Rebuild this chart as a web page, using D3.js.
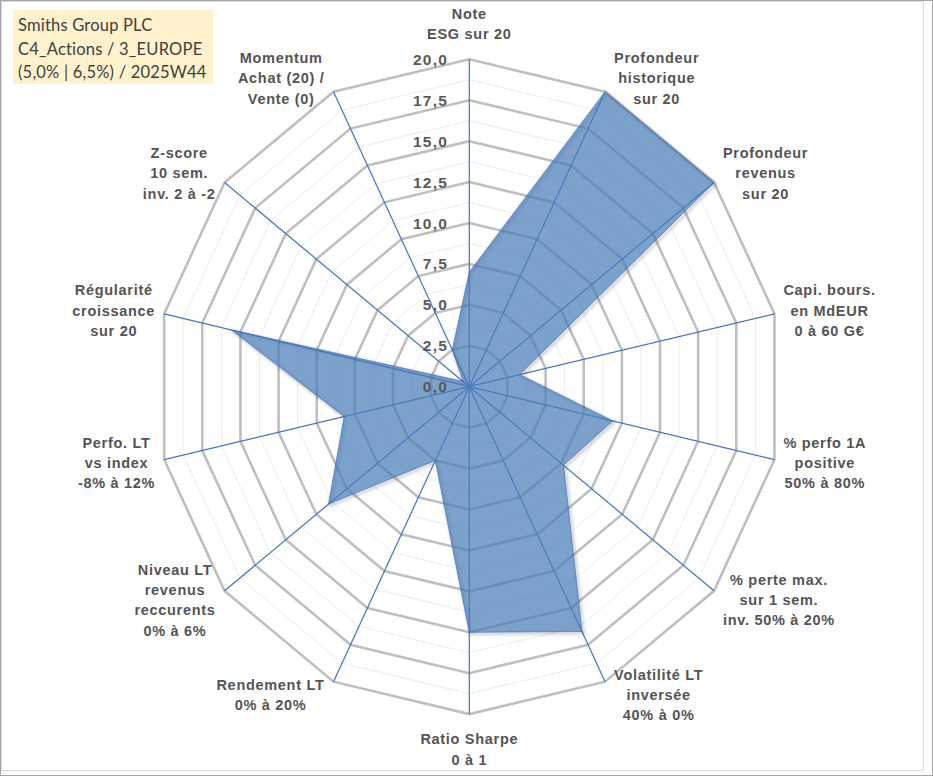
<!DOCTYPE html>
<html>
<head>
<meta charset="utf-8">
<script src="https://cdn.jsdelivr.net/npm/d3@7"></script>
<style>
  html, body { margin: 0; padding: 0; background: #fff; }
  svg { display: block; }
</style>
</head>
<body>
<svg id="chart" width="933" height="776"></svg>
<script>
// ---- Data ----
const axisLabels = [
  ["Note", "ESG sur 20"],
  ["Profondeur", "historique", "sur 20"],
  ["Profondeur", "revenus", "sur 20"],
  ["Capi. bours.", "en MdEUR", "0 à 60 G€"],
  ["% perfo 1A", "positive", "50% à 80%"],
  ["% perte max.", "sur 1 sem.", "inv. 50% à 20%"],
  ["Volatilité LT", "inversée", "40% à 0%"],
  ["Ratio Sharpe", "0 à 1"],
  ["Rendement LT", "0% à 20%"],
  ["Niveau LT", "revenus", "reccurents", "0% à 6%"],
  ["Perfo. LT", "vs index", "-8% à 12%"],
  ["Régularité", "croissance", "sur 20"],
  ["Z-score", "10 sem.", "inv. 2 à -2"],
  ["Momentum", "Achat (20) /", "Vente (0)"]
];
const seriesValues = [7.0, 20, 20, 3.3, 9.4, 7.7, 16.6, 15.0, 5.0, 11.5, 8.2, 15.6, 0.5, 2.5];
const tickValues = [0, 2.5, 5, 7.5, 10, 12.5, 15, 17.5, 20];
const minorTickValues = [1.25, 3.75, 6.25, 8.75, 11.25, 13.75, 16.25, 18.75];
const titleLines = ["Smiths Group PLC", "C4_Actions / 3_EUROPE", "(5,0% | 6,5%) / 2025W44"];

// ---- Layout ----
const W = 933, H = 776;
const cx = 469.3, cy = 386.7;
const rx = 313, ry = 327.4;
const n = axisLabels.length;
const svg = d3.select("#chart");

const angle = d3.scaleLinear().domain([0, n]).range([0, 2 * Math.PI]);
const rX = d3.scaleLinear().domain([0, 20]).range([0, rx]);
const rY = d3.scaleLinear().domain([0, 20]).range([0, ry]);
const px = (i, v) => cx + Math.sin(angle(i)) * rX(v);
const py = (i, v) => cy - Math.cos(angle(i)) * rY(v);

// Frames
svg.append("rect").attr("x", 0.5).attr("y", 0.5).attr("width", W - 1).attr("height", H - 1)
  .attr("fill", "#fff").attr("stroke", "#a6a6a6");
svg.append("rect").attr("x", 1.5).attr("y", 1.5).attr("width", 922).attr("height", 769)
  .attr("fill", "none").attr("stroke", "#d9d9d9");

// Defs: blur for the edge shadow
const defs = svg.append("defs");
defs.append("filter").attr("id", "blur").attr("x", "-10%").attr("y", "-10%").attr("width", "120%").attr("height", "120%")
  .append("feGaussianBlur").attr("stdDeviation", 1.6);

const ringPath = v => {
  const pts = d3.range(n).map(i => [px(i, v), py(i, v)]);
  return d3.line()(pts) + "Z";
};

// Minor rings
svg.append("g").selectAll("path").data(minorTickValues).join("path")
  .attr("d", d => ringPath(d)).attr("fill", "none")
  .attr("stroke", "#ededed").attr("stroke-width", 1);

// Major rings
svg.append("g").selectAll("path").data(tickValues.filter(d => d > 0)).join("path")
  .attr("d", d => ringPath(d)).attr("fill", "none")
  .attr("stroke", "#bfbfbf").attr("stroke-width", 2.6).attr("stroke-linejoin", "miter");

// Spokes
svg.append("g").selectAll("line").data(d3.range(n)).join("line")
  .attr("x1", cx).attr("y1", cy)
  .attr("x2", i => px(i, 20)).attr("y2", i => py(i, 20))
  .attr("stroke", "#4472c4").attr("stroke-width", 1.2);

// Series polygon
const seriesPts = seriesValues.map((v, i) => [px(i, v), py(i, v)]);
const seriesD = d3.line()(seriesPts) + "Z";
svg.append("path")
  .attr("d", seriesD)
  .attr("transform", "translate(1.5,1.5)")
  .attr("fill", "none").attr("stroke", "#000").attr("stroke-opacity", 0.22)
  .attr("stroke-width", 2.5).attr("filter", "url(#blur)");
svg.append("path")
  .attr("d", seriesD)
  .attr("fill", "#4a7eb8").attr("fill-opacity", 0.72)
  .attr("stroke", "#4472c4").attr("stroke-width", 1).attr("stroke-opacity", 0.7);

// Tick labels
const fmt = v => d3.format(".1f")(v).replace(".", ",");
svg.append("g").selectAll("text").data(tickValues).join("text")
  .attr("x", 448).attr("y", d => cy - rY(d))
  .attr("text-anchor", "end").attr("dominant-baseline", "central")
  .attr("font-family", "Liberation Sans, Arial, sans-serif")
  .attr("font-weight", "bold").attr("font-size", "15.5px")
  .attr("letter-spacing", "1.2px")
  .attr("fill", "#595959")
  .text(d => fmt(d));

// Axis labels
const lh = 20.3;
const lg = svg.append("g");
axisLabels.forEach((lines, i) => {
  const a = angle(i);
  const s = Math.sin(a), c = Math.cos(a);
  const ox = px(i, 20), oy = py(i, 20);
  const g = lg.append("g");
  const texts = lines.map((t, j) => g.append("text")
    .attr("font-family", "Liberation Sans, Arial, sans-serif")
    .attr("font-weight", "bold").attr("font-size", "14.5px")
    .attr("letter-spacing", "0.7px")
    .attr("fill", "#545454")
    .attr("text-anchor", "middle").attr("dominant-baseline", "central")
    .text(t));
  const maxW = d3.max(texts, t => t.node().getComputedTextLength());
  let bx, by;
  if (Math.abs(s) < 0.01) {
    bx = ox;
    by = oy - c * (lines.length * lh / 2 + 15);
  } else {
    bx = s > 0 ? ox + 9 + maxW / 2 : ox - 9 - maxW / 2;
    by = oy - c * 15;
  }
  texts.forEach((t, j) => {
    t.attr("x", bx).attr("y", by + (j - (lines.length - 1) / 2) * lh);
  });
});

// Title box
svg.append("rect").attr("x", 13).attr("y", 10).attr("width", 200).attr("height", 74)
  .attr("fill", "#fff2cc");
svg.append("g").selectAll("text").data(titleLines).join("text")
  .attr("x", 18).attr("y", (d, j) => 30.7 + j * 23.8)
  .attr("font-family", "Lato, 'Open Sans', sans-serif")
  .attr("font-size", "16.5px")
  .attr("letter-spacing", "0.2px")
  .attr("fill", "#404040")
  .text(d => d);
</script>
</body>
</html>
